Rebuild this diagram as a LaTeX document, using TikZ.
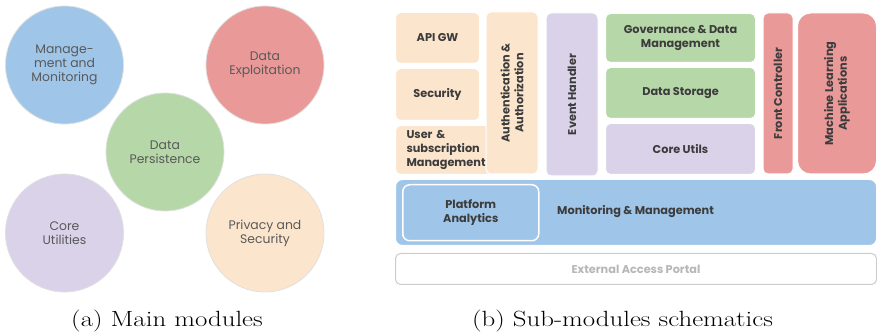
\documentclass[tikz,border=0pt]{standalone}
\usepackage{fontspec}
\newfontfamily\pop{Poppins}
\definecolor{cblue}{HTML}{9FC5E8}
\definecolor{cred}{HTML}{EA9999}
\definecolor{cgreen}{HTML}{B6D7A8}
\definecolor{cpurple}{HTML}{D9D2E9}
\definecolor{corange}{HTML}{FCE5CD}
\definecolor{modtext}{HTML}{595959}
\definecolor{boxtext}{HTML}{3C3C3C}
\definecolor{portaltext}{HTML}{B7B7B7}
\definecolor{portalline}{HTML}{CCCCCC}
\begin{document}
\begin{tikzpicture}[x=1pt,y=-1pt,
  module/.style={circle, minimum size=118pt, inner sep=0pt, draw=black!12,
    line width=0.8pt, text=modtext, align=center,
    font=\pop\fontsize{12.4}{14.2}\selectfont},
  subbox/.style={rectangle, rounded corners=5pt, draw=white, line width=1pt,
    inner sep=2pt, text=boxtext, align=center,
    font=\pop\bfseries\fontsize{11.3}{13.6}\selectfont},
  caption/.style={font=\fontsize{22}{26}\selectfont, anchor=base, inner sep=0pt}
]
\useasboundingbox (0,0) rectangle (877,336);

% ---- (a) main modules ----
\node[module, fill=cblue]   (mgmt)    at (64.5,65)  {Manage-\\ment and\\Monitoring};
\node[module, fill=cred]    (exploit) at (265,65)   {Data\\Exploitation};
\node[module, fill=cgreen]  (persist) at (165,152)  {Data\\Persistence};
\node[module, fill=cpurple] (core)    at (64.5,233) {Core\\Utilities};
\node[module, fill=corange] (privacy) at (265,233)  {Privacy and\\Security};

% ---- (b) sub-modules ----
\node[subbox, fill=corange, anchor=north west, minimum width=84pt, minimum height=51pt]
  (apigw) at (395,12) {API GW};
\node[subbox, fill=corange, anchor=north west, minimum width=84pt, minimum height=52pt]
  (security) at (395,68) {Security};
\node[subbox, fill=corange, anchor=north west, minimum width=98pt, minimum height=49pt,
  align=left, text width=92pt, inner sep=0pt]
  (user) at (395,125) {\hspace*{8pt}User \&\\\hspace*{8pt}subscription\\\hspace*{8pt}Management};
\node[subbox, fill=corange, rotate=90, minimum width=162pt, minimum height=52pt]
  (auth) at (512,93) {Authentication \&\\Authorization};
\node[subbox, fill=cpurple, rotate=90, minimum width=163pt, minimum height=52pt]
  (event) at (572,94.5) {Event Handler};

\node[subbox, fill=cgreen, anchor=north west, minimum width=150pt, minimum height=49pt]
  (gov) at (605,13) {Governance \& Data\\Management};
\node[subbox, fill=cgreen, anchor=north west, minimum width=150pt, minimum height=51pt]
  (storage) at (605,67) {Data Storage};
\node[subbox, fill=cpurple, anchor=north west, minimum width=150pt, minimum height=51pt]
  (utils) at (605,123) {Core Utils};

\node[subbox, fill=cred, rotate=90, minimum width=161pt, minimum height=30pt]
  (front) at (778,93.5) {Front Controller};
\node[subbox, fill=cred, rotate=90, rounded corners=13pt, minimum width=161pt,
  minimum height=79pt]
  (ml) at (837,93.5) {Machine Learning\\Applications};

\node[subbox, fill=cblue, anchor=north west, rounded corners=7pt,
  minimum width=481pt, minimum height=66pt]
  (monitor) at (395,179) {};
\node[subbox, fill=cblue, anchor=north west, rounded corners=7pt, line width=1.5pt,
  minimum width=136pt, minimum height=56pt]
  (analytics) at (402,184) {Platform\\Analytics};
\node[text=boxtext, font=\pop\bfseries\fontsize{11.3}{13.6}\selectfont, anchor=west,
  inner sep=0pt] (monlabel) at (557,212) {Monitoring \& Management};

\node[subbox, fill=white, draw=portalline, rounded corners=5pt, anchor=north west,
  minimum width=481pt, minimum height=31pt, text=portaltext]
  (portal) at (395,253) {External Access Portal};

% ---- captions ----
\node[caption] (capa) at (167,326.5) {\scalebox{1.22}[1]{(a) Main modules}};
\node[caption] (capb) at (622.5,326.5) {\scalebox{1.22}[1]{(b) Sub-modules schematics}};
\end{tikzpicture}
\end{document}
